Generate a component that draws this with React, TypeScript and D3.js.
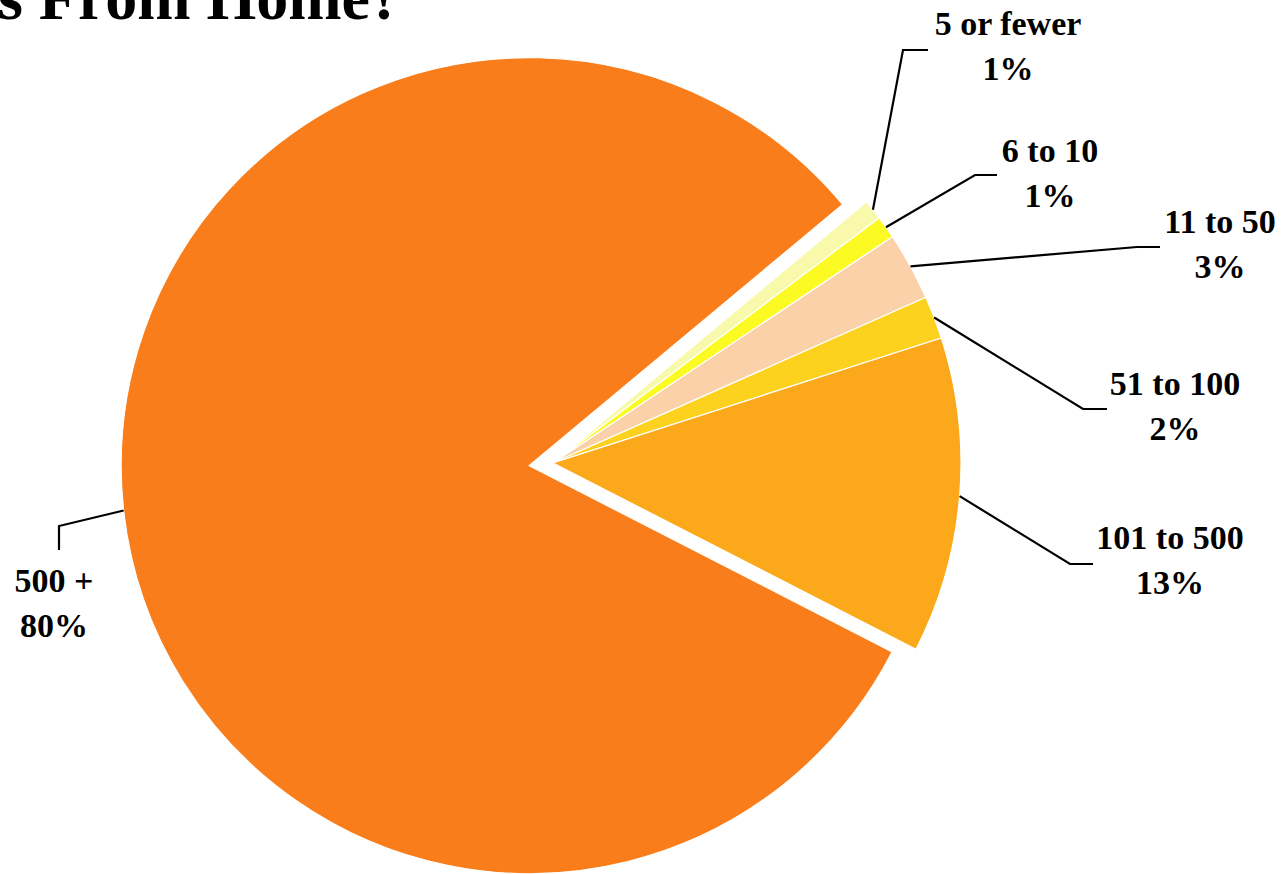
import React from "react";
import * as d3 from "d3";

// ---- data ----
const categories = ["5 or fewer", "6 to 10", "11 to 50", "51 to 100", "101 to 500", "500 +"];
const shares = [0.8, 0.9, 2.7, 1.7, 12.5, 81.4];
const percentLabels = ["1%", "1%", "3%", "2%", "13%", "80%"];
const colors = ["#F9F9AB", "#FBFA23", "#FAD1A9", "#FDD21F", "#FBA91B", "#F97E1B"];
const explodedCategory = "500 +";
const titleText = "s From Home?";

// ---- layout ----
const W = 1283;
const H = 874;
const cx = 553;
const cy = 463;
const R = 408;
const explode = 24;
const startDeg = 50.2;

// leader line elbow/end and label text centre (x, first baseline)
const labelLayout = [
  { elbow: [903, 50], end: [928, 50], text: [1008, 35] },
  { elbow: [975, 175], end: [997, 175], text: [1050, 162] },
  { elbow: [1137, 247], end: [1160, 247], text: [1220, 233] },
  { elbow: [1083, 409], end: [1107, 409], text: [1175, 395] },
  { elbow: [1070, 564], end: [1093, 564], text: [1170, 549] },
  { elbow: [59, 526], end: [59, 550], text: [54, 592] },
];

export default function App() {
  const data = categories.map((c, i) => ({ c, v: shares[i], i }));
  const start = (startDeg * Math.PI) / 180;
  const pie = d3
    .pie<any>()
    .sort(null)
    .value((d: any) => d.v)
    .startAngle(start)
    .endAngle(start + 2 * Math.PI);
  const arcs = pie(data);
  const arc = d3.arc<any>().innerRadius(0).outerRadius(R);
  const line = d3.line();

  return (
    <svg
      width={W}
      height={H}
      style={{ position: "absolute", left: 0, top: 0, background: "#fff" }}
      fontFamily="'Liberation Serif', 'Times New Roman', serif"
    >
      <text
        x={402}
        y={19}
        textAnchor="end"
        fontSize={64}
        fontWeight="bold"
        fill="#000"
      >
        {titleText}
      </text>
      {arcs.map((a: any) => {
        const mid = (a.startAngle + a.endAngle) / 2;
        const off = a.data.c === explodedCategory ? explode : 0;
        const ox = cx + off * Math.sin(mid);
        const oy = cy - off * Math.cos(mid);
        const anchor: [number, number] = [ox + R * Math.sin(mid), oy - R * Math.cos(mid)];
        const lay = labelLayout[a.data.i];
        return (
          <g key={a.data.c}>
            <path
              d={arc(a) as string}
              transform={`translate(${ox},${oy})`}
              fill={colors[a.data.i]}
              stroke="#fff"
              strokeWidth={1.2}
            />
            <path
              d={line([anchor, lay.elbow as [number, number], lay.end as [number, number]]) as string}
              fill="none"
              stroke="#000"
              strokeWidth={2.2}
            />
          </g>
        );
      })}
      {arcs.map((a: any) => {
        const lay = labelLayout[a.data.i];
        return (
          <text
            key={"t" + a.data.c}
            x={lay.text[0]}
            y={lay.text[1]}
            textAnchor="middle"
            fontSize={34}
            fontWeight="bold"
            fill="#000"
          >
            <tspan x={lay.text[0]}>{a.data.c}</tspan>
            <tspan x={lay.text[0]} dy={45}>
              {percentLabels[a.data.i]}
            </tspan>
          </text>
        );
      })}
    </svg>
  );
}
